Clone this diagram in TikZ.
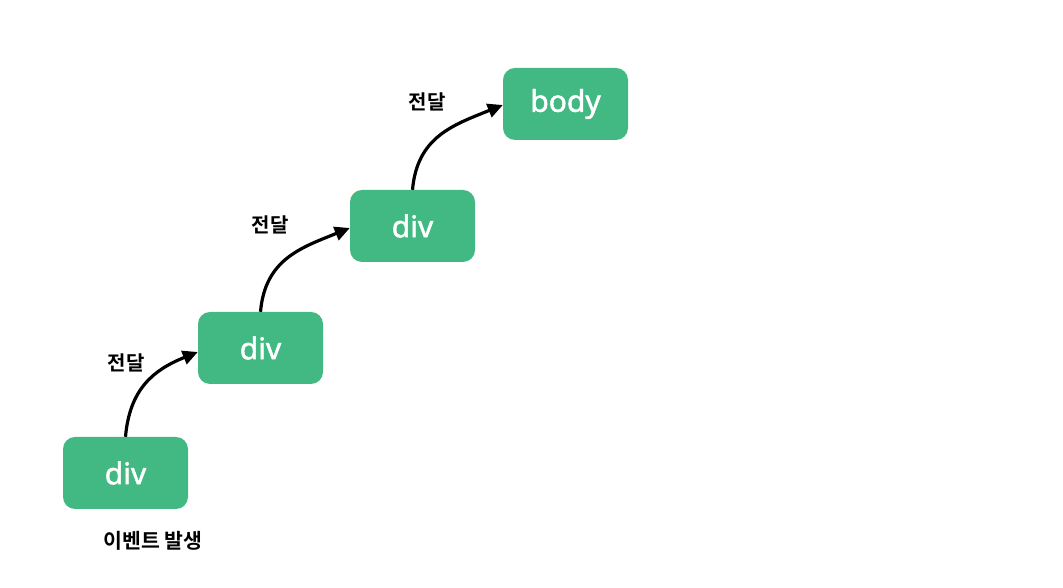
\documentclass[tikz,border=0pt]{standalone}
\usepackage{fontspec}
\setmainfont{Noto Sans}[FakeBold=1.6]
\newfontfamily\kor{Noto Sans CJK KR}[BoldFont={* Bold}]
\usetikzlibrary{arrows.meta}
\definecolor{vgreen}{HTML}{42B983}
\tikzset{
  box/.style={draw=none, fill=vgreen, rounded corners=12pt, minimum width=125pt, minimum height=72pt, inner sep=0pt, text=white, font=\fontsize{30}{32}\selectfont},
  lbl/.style={inner sep=0pt, font=\kor\bfseries\fontsize{20}{22}\selectfont},
  pass/.style={line width=3.2pt, -{Triangle[length=15pt,width=14pt]}, out=85, in=202, looseness=1.1},
}
\begin{document}
\begin{tikzpicture}[x=1pt,y=1pt]
\useasboundingbox (0,0) rectangle (1063,588);
\fill[white] (0,0) rectangle (1063,588);
\node[box] (n1) at (125.5,115) {div};
\node[box] (n2) at (260.5,240) {div};
\node[box] (n3) at (412.5,362) {div};
\node[box] (n4) at (565.5,484) {body};
\draw[pass] (n1.north) to ([yshift=-4pt]n2.west);
\draw[pass] (n2.north) to ([yshift=-2pt]n3.west);
\draw[pass] (n3.north) to ([yshift=-1pt]n4.west);
\node[lbl] (l1) at (126,225) {전달};
\node[lbl] (l2) at (270,363) {전달};
\node[lbl] (l3) at (427,486) {전달};
\node[lbl, font=\kor\bfseries\fontsize{20.5}{22}\selectfont] (ev) at (153,47) {이벤트 발생};
\end{tikzpicture}
\end{document}
